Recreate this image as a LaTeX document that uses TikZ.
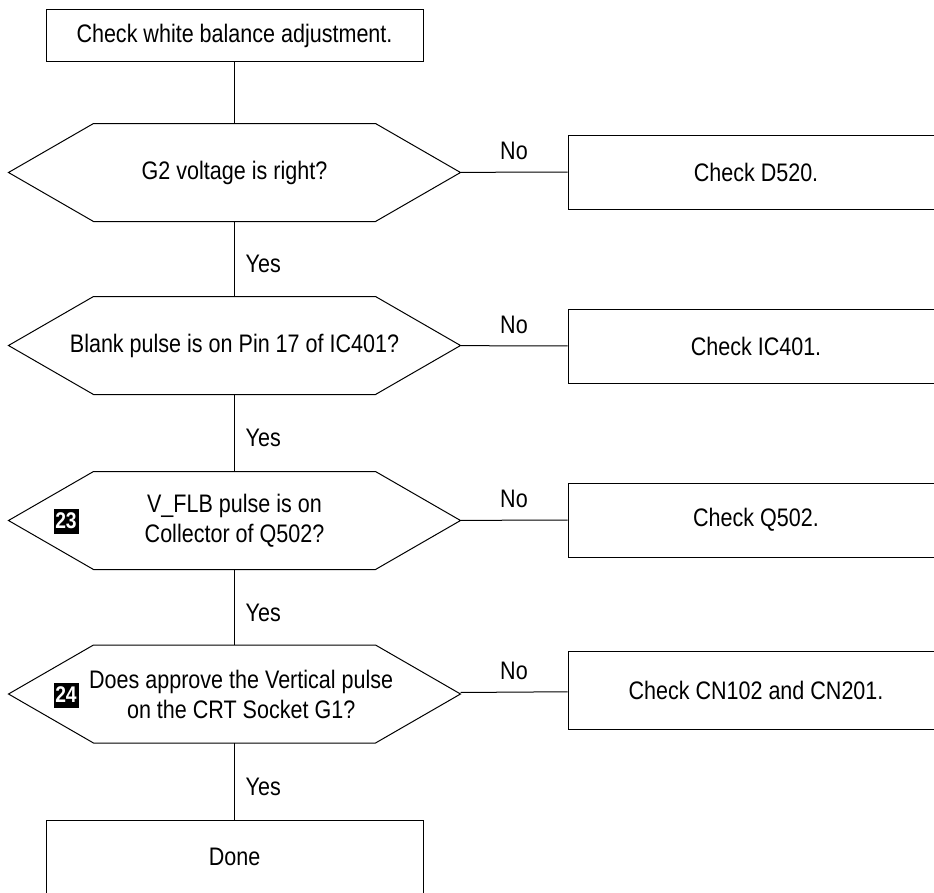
\documentclass[tikz,border=0pt]{standalone}
\usepackage{fontspec}
\setmainfont[FakeStretch=0.85]{Liberation Sans}

\tikzset{every picture/.style={line width=0.75pt}}
\tikzset{
  stepbox/.style={draw, rectangle, inner sep=0pt, align=center},
  testbox/.style={rectangle, minimum width=338.25pt, minimum height=72.75pt,
    inner sep=0pt, align=center},
  badge/.style={fill=black, text=white, font=\fontsize{17}{17}\selectfont\bfseries,
    minimum size=18.75pt, inner sep=0pt},
  yeslabel/.style={pos=0.57, anchor=west, xshift=8pt, inner sep=0pt},
  nolabel/.style={midway, above=9pt, inner sep=0pt},
}

\begin{document}
\begin{tikzpicture}[x=0.75pt,y=0.75pt,yscale=-1,xscale=1,font=\fontsize{19}{22.5}\selectfont]
%set diagram left start at 0, and has height of 892
\useasboundingbox (0,0) rectangle (934,892);
\clip (0,0) rectangle (934,892);

%Shape: Rectangle [id:start]
\node [stepbox, minimum width=282.75pt, minimum height=39pt] (start) at (234.5,36) {Check white balance adjustment.};

%Text Nodes [id:tests]
\node [testbox] (g2) at (234.5,172.5) {G2 voltage is right?};
\node [testbox] (blank) at (234.5,345.5) {Blank pulse is on Pin 17 of IC401?};
\node [testbox] (vflb) at (234.5,520.5) {V\_FLB pulse is on\\Collector of Q502?};
\node [testbox] (crt) at (234.5,694) {\hspace{10pt}Does approve the Vertical pulse\\\hspace{10pt}on the CRT Socket G1?};

%Shape: Hexagon
\foreach \n in {g2,blank,vflb,crt}
  \draw [line join=miter] (\n.west) -- ([xshift=63.75pt]\n.north west) -- ([xshift=-63.75pt]\n.north east)
    -- (\n.east) -- ([xshift=-63.75pt]\n.south east) -- ([xshift=63.75pt]\n.south west) -- cycle;

%Shape: Rectangle [id:checks]
\node [stepbox, minimum width=282pt, minimum height=55.5pt] (d520) at (756,172) {Check D520.};
\node [stepbox, minimum width=282pt, minimum height=55.5pt] (ic401) at (756,346) {Check IC401.};
\node [stepbox, minimum width=282pt, minimum height=55.5pt] (q502) at (756,520) {Check Q502.};
\node [stepbox, minimum width=282pt, minimum height=58.5pt] (cn) at (756,690.5) {Check CN102 and CN201.};

%Shape: Rectangle [id:done]
\node [stepbox, minimum width=282.75pt, minimum height=55.5pt] (done) at (234.5,857) {Done};

%Badges
\node [badge] (n23) at (66,521) {23};
\node [badge] (n24) at (66,695) {24};

%Straight Lines
\draw (start) -- (g2);
\draw (g2) -- node [yeslabel] {Yes} (blank);
\draw (blank) -- node [yeslabel] {Yes} (vflb);
\draw (vflb) -- node [yeslabel] {Yes} (crt);
\draw (crt) -- node [yeslabel] {Yes} (done);
\draw (g2) -- node [nolabel] {No} (d520);
\draw (blank) -- node [nolabel] {No} (ic401);
\draw (vflb) -- node [nolabel] {No} (q502);
\draw (crt) -- node [nolabel] {No} (cn);

\end{tikzpicture}
\end{document}
